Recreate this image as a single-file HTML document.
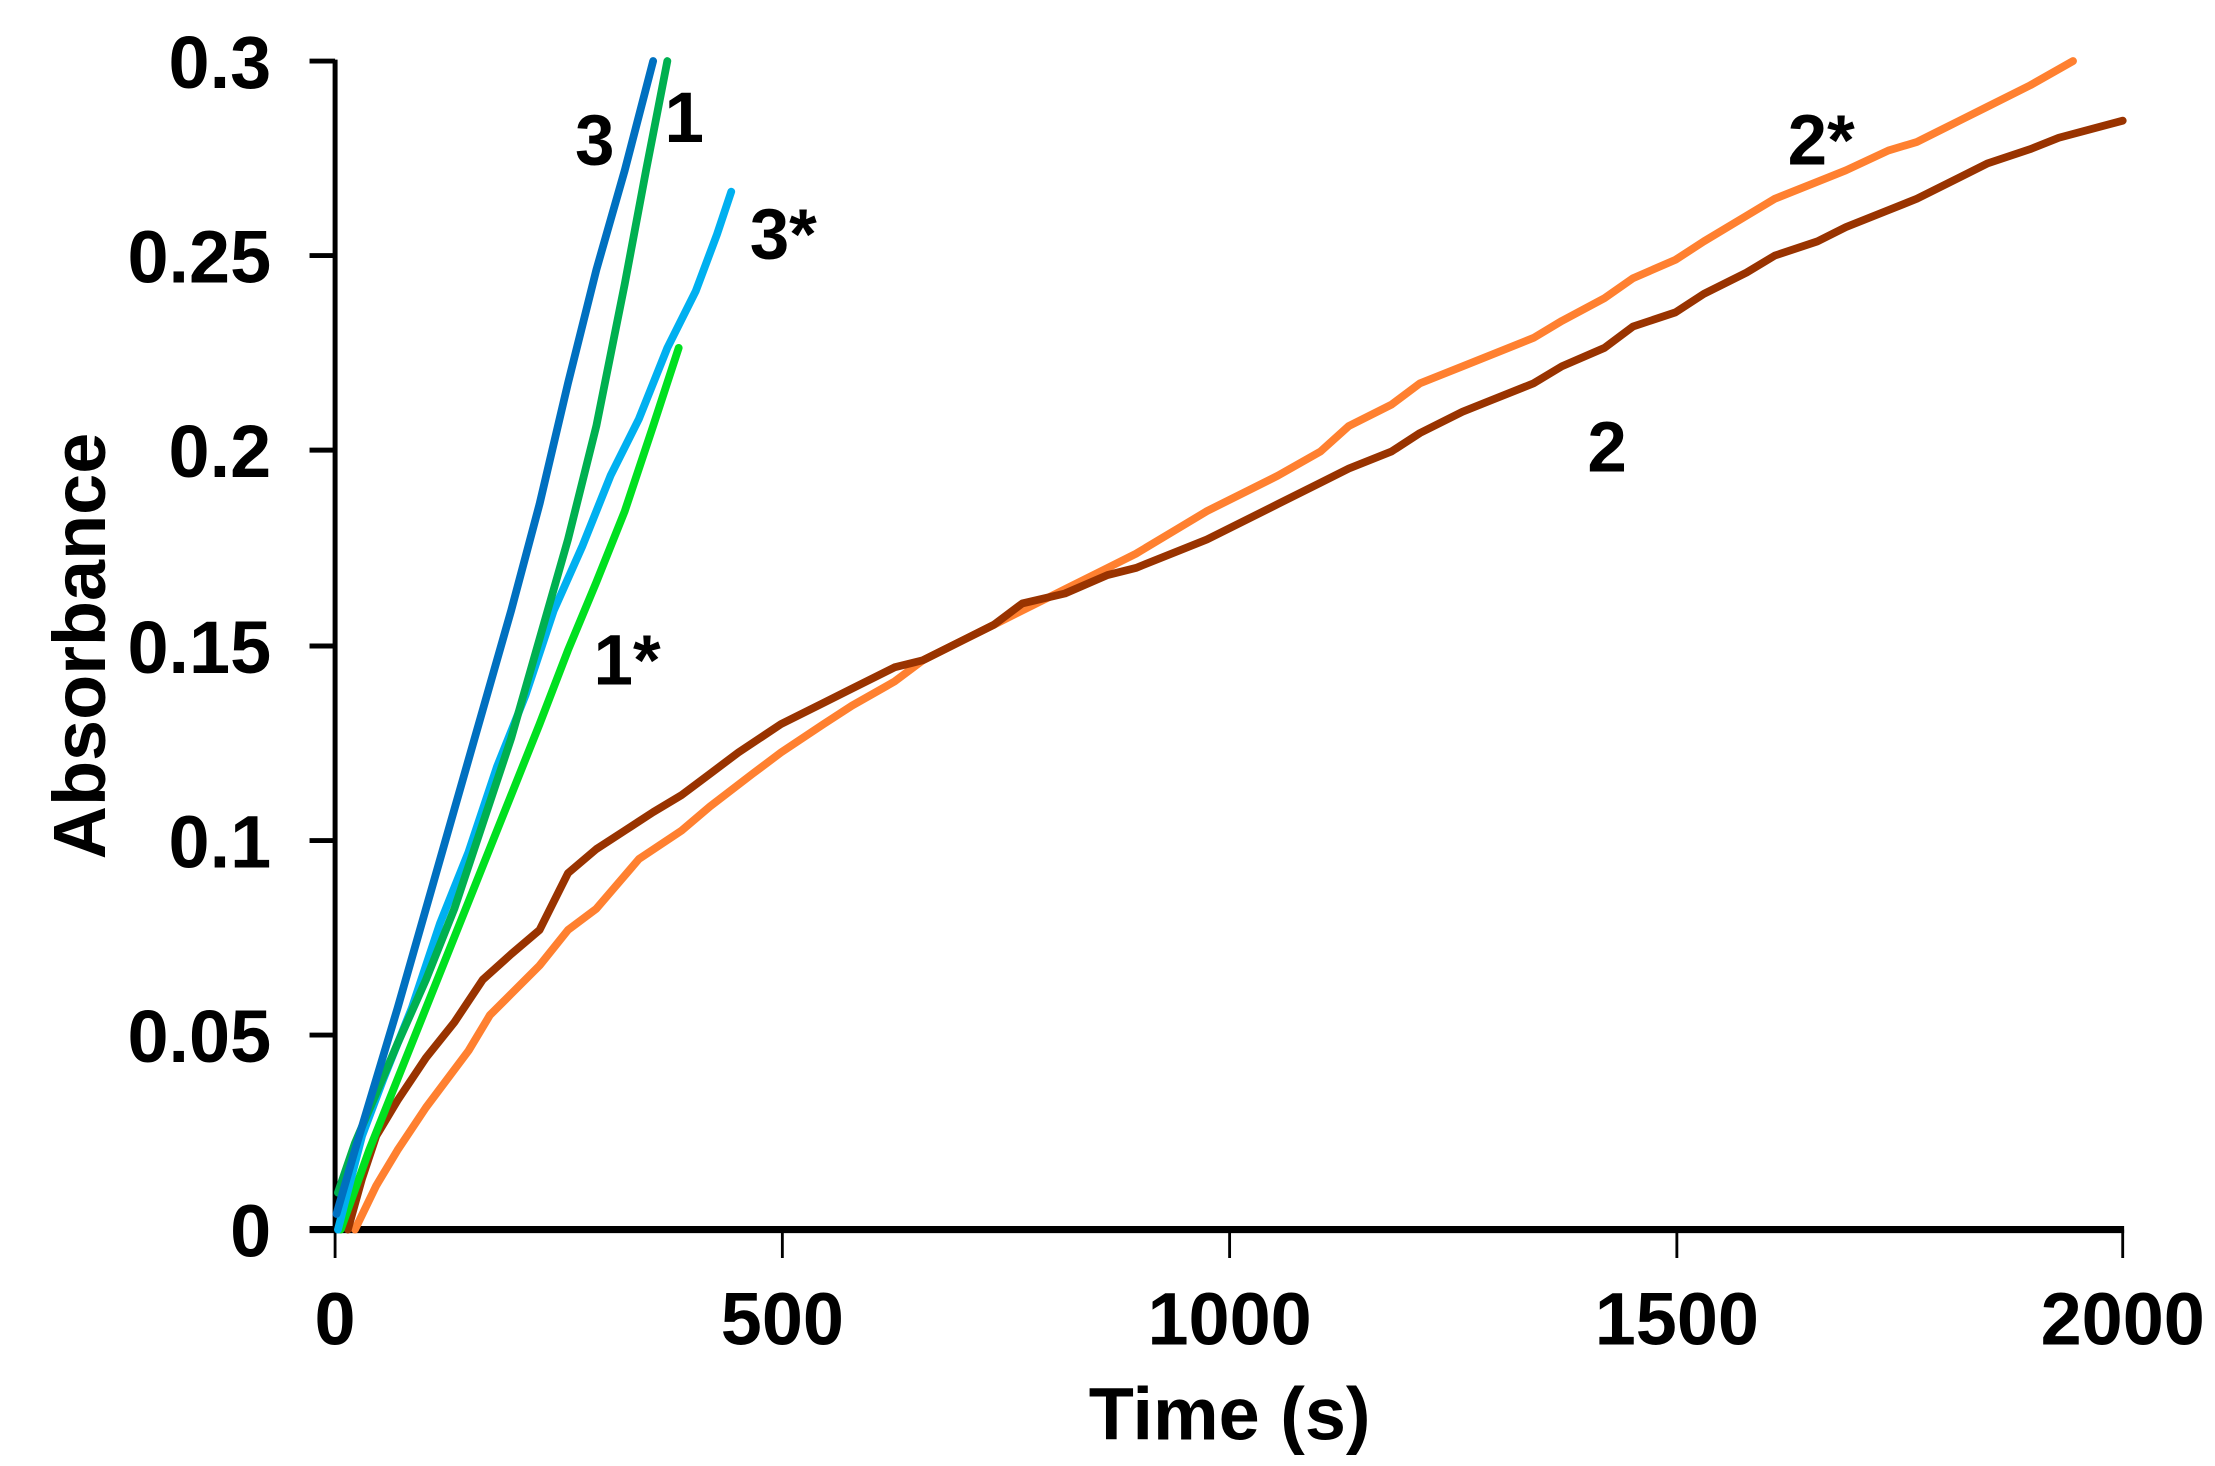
<!DOCTYPE html>
<html><head><style>html,body{margin:0;padding:0;background:#fff}svg{display:block}</style></head>
<body>
<svg width="2215" height="1466" viewBox="0 0 1560 1032.5" preserveAspectRatio="none" xmlns="http://www.w3.org/2000/svg" font-family="Liberation Sans, Arial, sans-serif" font-weight="bold">
<g stroke="#000" stroke-width="3.5" fill="none">
<line x1="236" y1="42" x2="236" y2="868"/>
<line x1="218" y1="866" x2="1496" y2="866" stroke-width="5"/>
<line x1="218" y1="43" x2="236" y2="43"/>
<line x1="218" y1="180" x2="236" y2="180"/>
<line x1="218" y1="317" x2="236" y2="317"/>
<line x1="218" y1="455" x2="236" y2="455"/>
<line x1="218" y1="592" x2="236" y2="592"/>
<line x1="218" y1="729" x2="236" y2="729"/>
<line x1="236" y1="866" x2="236" y2="886" stroke-width="2"/>
<line x1="551" y1="866" x2="551" y2="886" stroke-width="2"/>
<line x1="866" y1="866" x2="866" y2="886" stroke-width="2"/>
<line x1="1181" y1="866" x2="1181" y2="886" stroke-width="2"/>
<line x1="1495" y1="866" x2="1495" y2="886" stroke-width="2"/>
</g>
<g font-size="52" text-anchor="end">
<text x="191" y="62">0.3</text>
<text x="191" y="199">0.25</text>
<text x="191" y="336">0.2</text>
<text x="191" y="474">0.15</text>
<text x="191" y="611">0.1</text>
<text x="191" y="748">0.05</text>
<text x="191" y="885">0</text>
</g>
<g font-size="52" text-anchor="middle">
<text x="236" y="947">0</text>
<text x="551" y="947">500</text>
<text x="866" y="947">1000</text>
<text x="1181" y="947">1500</text>
<text x="1495" y="947">2000</text>
<text x="866" y="1014">Time (s)</text>
<text transform="translate(74,455) rotate(-90)">Absorbance</text>
</g>
<g fill="none" stroke-width="5.5" stroke-linejoin="round" stroke-linecap="round">
<polyline stroke="#FF8030" points="250,866 265,835 280,810 300,780 330,740 345,715 360,700 380,680 400,655 420,640 450,605 480,585 500,568 530,545 550,530 580,510 600,497 630,480 650,465 680,450 700,440 730,425 750,415 780,400 800,390 830,372 850,360 880,345 900,335 930,318 950,300 980,285 1000,270 1030,258 1050,250 1080,238 1100,226 1130,210 1150,196 1180,183 1200,170 1230,152 1250,140 1280,128 1300,120 1330,106 1350,100 1380,85 1400,75 1430,60 1460,43"/>
<polyline stroke="#993300" points="245,866 255,830 265,800 280,775 300,745 320,720 340,690 360,672 380,655 400,615 420,598 440,585 460,572 480,560 500,545 520,530 550,510 580,495 600,485 630,470 650,465 680,450 700,440 720,425 750,418 780,405 800,400 830,388 850,380 880,365 900,355 930,340 950,330 980,318 1000,305 1030,290 1050,282 1080,270 1100,258 1130,245 1150,230 1180,220 1200,207 1230,192 1250,180 1280,170 1300,160 1330,148 1350,140 1380,125 1400,115 1430,105 1450,97 1495,85"/>
<polyline stroke="#00E020" points="240,866 260,810 280,760 300,710 320,660 340,610 360,560 380,510 400,458 420,410 440,360 460,300 478,245"/>
<polyline stroke="#00B0F0" points="238,866 255,800 270,760 290,710 310,650 330,600 350,540 370,490 390,430 410,385 430,335 450,295 470,245 490,205 505,165 515,135"/>
<polyline stroke="#00B050" points="238,840 250,805 265,770 280,735 300,690 320,640 340,580 360,520 380,450 400,380 420,300 440,200 455,120 470,43"/>
<polyline stroke="#0070C0" points="237,855 250,810 265,760 280,710 300,640 320,570 340,500 360,430 380,355 400,270 420,190 440,120 460,43"/>
</g>
<g font-size="50">
<text x="405" y="116">3</text>
<text x="468" y="100">1</text>
<text x="528" y="182">3*</text>
<text x="418" y="482">1*</text>
<text x="1118" y="332">2</text>
<text x="1259" y="116">2*</text>
</g>
</svg>
</body></html>
